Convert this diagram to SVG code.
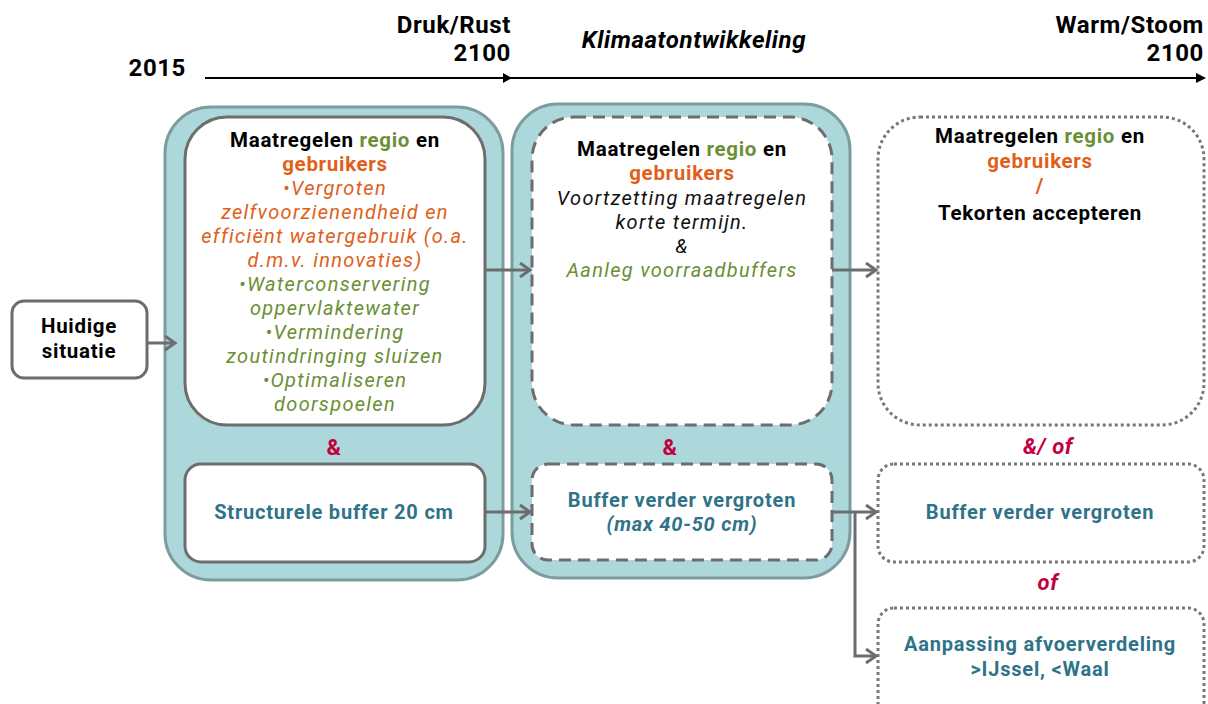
<svg xmlns="http://www.w3.org/2000/svg" width="1208" height="704" viewBox="0 0 1208 704">
  <style>
    text { font-family: Roboto, "Liberation Sans", sans-serif; text-anchor: middle; }
    .hdr { font-size: 24px; font-weight: bold; fill: #000; letter-spacing: 0.6px; }
    .ttl { font-size: 20.5px; font-weight: bold; fill: #000; letter-spacing: 0.7px; }
    .it { font-size: 20px; font-style: italic; letter-spacing: 1.3px; }
    .blk { fill: #111; }
    .grn { fill: #6b8f35; }
    .org { fill: #e0601a; }
    .teal { fill: #2f7388; font-size: 20px; font-weight: bold; letter-spacing: 0.8px; }
    .red { fill: #c1003d; font-size: 22px; font-weight: bold; letter-spacing: 0.6px; }
    .outer { fill: #acd8db; stroke: #7d9c9e; stroke-width: 3; }
    .solid { fill: #fff; stroke: #6d6d6d; stroke-width: 3; }
    .dash { fill: #fff; stroke: #6d6d6d; stroke-width: 3; stroke-dasharray: 12 7; }
    .dot { fill: #fff; stroke: #777; stroke-width: 3; stroke-dasharray: 3 3; }
    .conn { fill: none; stroke: #6d6d6d; stroke-width: 3; }
  </style>
  <defs>
    <marker id="chev" markerUnits="userSpaceOnUse" markerWidth="16" markerHeight="18" refX="13" refY="8" orient="auto">
      <path d="M3,1 L13,8 L3,15" fill="none" stroke="#6d6d6d" stroke-width="3"/>
    </marker>
  </defs>

  <rect width="1208" height="704" fill="#fff"/>

  <!-- timeline -->
  <g id="timeline">
    <line x1="205" y1="78" x2="1198" y2="78" stroke="#000" stroke-width="2"/>
    <polygon points="503,73 512,78 503,83" fill="#000"/>
    <polygon points="1196,73 1206,78 1196,83" fill="#000"/>
    <text class="hdr" x="186" y="76" style="text-anchor:end">2015</text>
    <text class="hdr" x="511" y="33" style="text-anchor:end">Druk/Rust</text>
    <text class="hdr" x="511" y="61" style="text-anchor:end">2100</text>
    <text class="hdr" x="694" y="48" style="font-style:italic">Klimaatontwikkeling</text>
    <text class="hdr" x="1204" y="33" style="text-anchor:end">Warm/Stoom</text>
    <text class="hdr" x="1204" y="61" style="text-anchor:end">2100</text>
  </g>

  <!-- phase containers -->
  <g id="phase-now">
    <rect class="outer" x="165" y="107" width="338" height="473" rx="46"/>
  </g>
  <g id="phase-mid">
    <rect class="outer" x="512" y="104" width="338" height="474" rx="46"/>
  </g>

  <g id="huidige">
    <rect class="solid" x="12" y="301" width="135" height="77" rx="12"/>
    <text class="ttl" x="79" y="333">Huidige</text>
    <text class="ttl" x="79" y="358">situatie</text>
  </g>

  <g id="maatregelen-1">
    <rect class="solid" x="185" y="117" width="300" height="308" rx="42"/>
    <text class="ttl" x="335" y="147">Maatregelen <tspan class="grn">regio</tspan> en</text>
    <text class="ttl org" x="335" y="171">gebruikers</text>
    <text class="it org" x="335" y="195">•Vergroten</text>
    <text class="it org" x="335" y="219">zelfvoorzienendheid en</text>
    <text class="it org" x="335" y="243">efficiënt watergebruik (o.a.</text>
    <text class="it org" x="335" y="267">d.m.v. innovaties)</text>
    <text class="it grn" x="335" y="291">•Waterconservering</text>
    <text class="it grn" x="335" y="315">oppervlaktewater</text>
    <text class="it grn" x="335" y="339">•Vermindering</text>
    <text class="it grn" x="335" y="363">zoutindringing sluizen</text>
    <text class="it grn" x="335" y="387">•Optimaliseren</text>
    <text class="it grn" x="335" y="411">doorspoelen</text>
  </g>

  <text class="red" x="334" y="455">&amp;</text>

  <g id="buffer-20">
    <rect class="solid" x="185" y="464" width="300" height="98" rx="16"/>
    <text class="teal" x="334" y="519">Structurele buffer 20 cm</text>
  </g>

  <g id="maatregelen-2">
    <rect class="dash" x="532" y="117" width="300" height="308" rx="42"/>
    <text class="ttl" x="682" y="156">Maatregelen <tspan class="grn">regio</tspan> en</text>
    <text class="ttl org" x="682" y="180">gebruikers</text>
    <text class="it blk" x="682" y="205">Voortzetting maatregelen</text>
    <text class="it blk" x="682" y="229">korte termijn.</text>
    <text class="it blk" x="682" y="253">&amp;</text>
    <text class="it grn" x="682" y="277">Aanleg voorraadbuffers</text>
  </g>

  <text class="red" x="670" y="455">&amp;</text>

  <g id="buffer-2">
    <rect class="dash" x="532" y="464" width="300" height="96" rx="16"/>
    <text class="teal" x="682" y="507">Buffer verder vergroten</text>
    <text class="teal" x="682" y="531" style="font-style:italic">(max 40-50 cm)</text>
  </g>

  <g id="maatregelen-3">
    <rect class="dot" x="878" y="117" width="326" height="308" rx="42"/>
    <text class="ttl" x="1040" y="143">Maatregelen <tspan class="grn">regio</tspan> en</text>
    <text class="ttl org" x="1040" y="168">gebruikers</text>
    <text class="ttl org" x="1040" y="193">/</text>
    <text class="ttl" x="1040" y="220">Tekorten accepteren</text>
  </g>

  <text class="red" x="1048" y="454" style="font-style:italic">&amp;/ of</text>

  <g id="buffer-3">
    <rect class="dot" x="878" y="464" width="326" height="98" rx="16"/>
    <text class="teal" x="1040" y="519">Buffer verder vergroten</text>
  </g>

  <text class="red" x="1048" y="590" style="font-style:italic">of</text>

  <g id="afvoerverdeling">
    <rect class="dot" x="878" y="608" width="326" height="110" rx="16"/>
    <text class="teal" x="1040" y="651">Aanpassing afvoerverdeling</text>
    <text class="teal" x="1040" y="676">&gt;IJssel, &lt;Waal</text>
  </g>

  <!-- connectors -->
  <g id="connectors">
    <line class="conn" x1="147" y1="343" x2="175" y2="343" marker-end="url(#chev)"/>
    <line class="conn" x1="485" y1="270" x2="530" y2="270" marker-end="url(#chev)"/>
    <line class="conn" x1="832" y1="270" x2="876" y2="270" marker-end="url(#chev)"/>
    <line class="conn" x1="485" y1="512" x2="530" y2="512" marker-end="url(#chev)"/>
    <line class="conn" x1="832" y1="512" x2="876" y2="512" marker-end="url(#chev)"/>
    <polyline class="conn" points="855,512 855,656 876,656" marker-end="url(#chev)"/>
  </g>
</svg>
